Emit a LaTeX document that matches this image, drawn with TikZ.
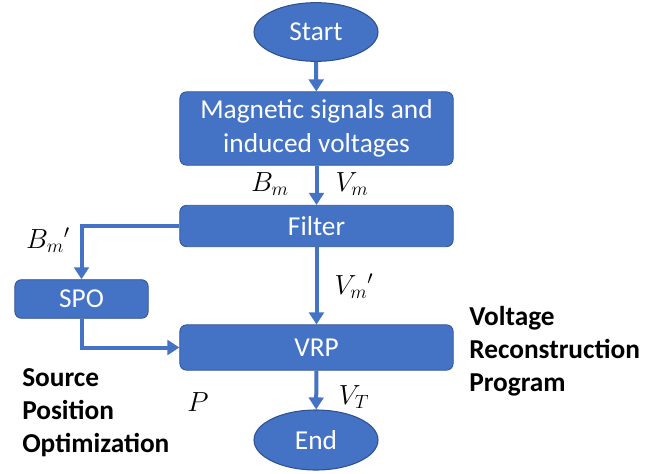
\documentclass[tikz,border=0pt]{standalone}
\usepackage{fontspec}
\setmainfont{Carlito}
\usetikzlibrary{arrows.meta,shapes.geometric}
\definecolor{boxblue}{HTML}{4472C4}
\definecolor{edgeblue}{HTML}{2F528F}
\begin{document}
\begin{tikzpicture}[x=0.75pt,y=-0.75pt,
  blk/.style={draw=edgeblue,line width=0.6pt,fill=boxblue,rounded corners=5pt,text=white,font=\fontsize{20.5}{25}\selectfont,align=center,inner sep=0pt},
  oval/.style={ellipse,draw=edgeblue,line width=0.8pt,fill=boxblue,text=white,font=\fontsize{20.5}{25}\selectfont,inner sep=0pt},
  flow/.style={draw=boxblue,line width=3pt,-{Triangle[width=11pt,length=9pt]}},
  lbl/.style={font=\fontsize{20}{24}\selectfont},
  note/.style={font=\fontsize{20.5}{24.75}\bfseries\selectfont,align=left,anchor=north west,inner sep=0pt}]
\useasboundingbox (0,0) rectangle (667,474);
\node[oval,minimum width=93pt,minimum height=44pt] (start) at (316,32) {Start};
\node[blk,minimum width=205pt,minimum height=55pt] (mag) at (316.5,128.5) {Magnetic signals and\\induced voltages};
\node[blk,minimum width=205pt,minimum height=31pt] (filter) at (316.5,226) {Filter};
\node[blk,minimum width=100pt,minimum height=29pt] (spo) at (81.5,299) {SPO};
\node[blk,minimum width=205pt,minimum height=34pt] (vrp) at (316.5,347.5) {VRP};
\node[oval,minimum width=93pt,minimum height=45pt] (end) at (316,440) {End};
\draw[flow] (start) -- (mag);
\draw[flow] (mag) -- (filter);
\draw[flow] (filter) -- (vrp);
\draw[flow] (vrp) -- (end);
\draw[flow] (filter.west) -| (spo.north);
\draw[flow] (spo.south) |- (vrp.west);
\node[lbl] (bm) at (270,184) {$B_m$};
\node[lbl] (vm) at (352,184) {$V_m$};
\node[lbl] (bmp) at (48,240) {$B_m{}'$};
\node[lbl] (vmp) at (354,286) {$V_m{}'$};
\node[lbl] (vt) at (354,397) {$V_T$};
\node[lbl] (p) at (198,402) {$P$};
\node[note] (vrpnote) at (469,306) {Voltage\\Reconstruction\\Program};
\node[note] (sponote) at (22,368) {Source\\Position\\Optimization};
\end{tikzpicture}
\end{document}
